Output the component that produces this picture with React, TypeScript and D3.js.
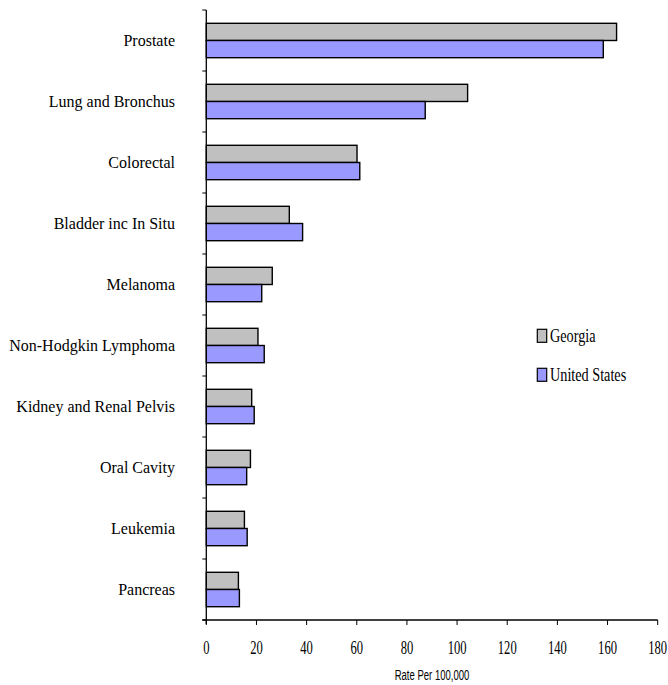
import React from "react";
import * as d3 from "d3";

const categories = [
  "Prostate",
  "Lung and Bronchus",
  "Colorectal",
  "Bladder inc In Situ",
  "Melanoma",
  "Non-Hodgkin Lymphoma",
  "Kidney and Renal Pelvis",
  "Oral Cavity",
  "Leukemia",
  "Pancreas",
];
const georgia = [163.6, 104.2, 60.1, 33.1, 26.3, 20.6, 18.1, 17.6, 15.2, 12.8];
const unitedStates = [158.3, 87.3, 61.2, 38.4, 22.1, 23.1, 19.1, 16.1, 16.3, 13.2];
const seriesNames = ["Georgia", "United States"];
const seriesColors = ["#C0C0C0", "#9999FF"];
const xTicks = [0, 20, 40, 60, 80, 100, 120, 140, 160, 180];
const xTitle = "Rate Per 100,000";

const W = 668;
const H = 685;
const left = 206.3;
const right = 657.7;
const top = 10;
const bottom = 620;

export default function App() {
  const x = d3.scaleLinear().domain([0, 180]).range([left, right]);
  const y = d3.scaleBand<string>().domain(categories).range([top, bottom]).padding(0);
  const bw = y.bandwidth();
  const inner = d3
    .scaleBand<string>()
    .domain(seriesNames)
    .range([bw * 0.218, bw * 0.782])
    .padding(0);
  const values = [georgia, unitedStates];
  const boundaries = d3.range(categories.length + 1).map((i) => top + i * bw);

  return (
    <svg
      width={W}
      height={H}
      style={{ position: "absolute", left: 0, top: 0, background: "#fff" }}
    >
      {/* bars */}
      {categories.map((c, i) => (
        <g key={c}>
          {seriesNames.map((s, j) => (
            <rect
              key={s}
              x={x(0)}
              y={(y(c) as number) + (inner(s) as number)}
              width={x(values[j][i]) - x(0)}
              height={inner.bandwidth()}
              fill={seriesColors[j]}
              stroke="#000"
              strokeWidth={1.4}
            />
          ))}
        </g>
      ))}

      {/* category axis */}
      <line x1={left} x2={left} y1={top} y2={bottom + 4} stroke="#000" strokeWidth={1.3} />
      {boundaries.map((b, i) => (
        <line key={i} x1={left - 4} x2={left} y1={b} y2={b} stroke="#000" strokeWidth={1} />
      ))}
      {categories.map((c) => (
        <text
          key={c}
          x={175}
          y={(y(c) as number) + bw / 2}
          dy="0.35em"
          textAnchor="end"
          fontFamily="'Liberation Serif', 'Times New Roman', serif"
          fontSize={16}
          fill="#000"
        >
          {c}
        </text>
      ))}

      {/* value axis */}
      <line x1={left - 4} x2={right} y1={bottom} y2={bottom} stroke="#000" strokeWidth={1.3} />
      {xTicks.map((t) => (
        <g key={t} transform={`translate(${x(t)},0)`}>
          <line y1={bottom} y2={bottom + 5} stroke="#000" strokeWidth={1} />
          <text
            transform={`translate(0,${bottom + 34}) scale(0.7,1)`}
            textAnchor="middle"
            fontFamily="'Liberation Serif', 'Times New Roman', serif"
            fontSize={18}
            fill="#000"
          >
            {t}
          </text>
        </g>
      ))}
      <text
        transform={`translate(${(left + right) / 2 + 0},${680}) scale(0.68,1)`}
        textAnchor="middle"
        fontFamily="'Liberation Sans', Arial, sans-serif"
        fontSize={14}
        fill="#000"
      >
        {xTitle}
      </text>

      {/* legend */}
      {seriesNames.map((s, j) => (
        <g key={s} transform={`translate(537.3,${329.3 + j * 39})`}>
          <rect x={0} y={0} width={9.4} height={13} fill={seriesColors[j]} stroke="#000" strokeWidth={1.2} />
          <text
            transform="translate(12.7,12.6) scale(0.79,1)"
            fontFamily="'Liberation Serif', 'Times New Roman', serif"
            fontSize={18}
            fill="#000"
          >
            {s}
          </text>
        </g>
      ))}
    </svg>
  );
}
